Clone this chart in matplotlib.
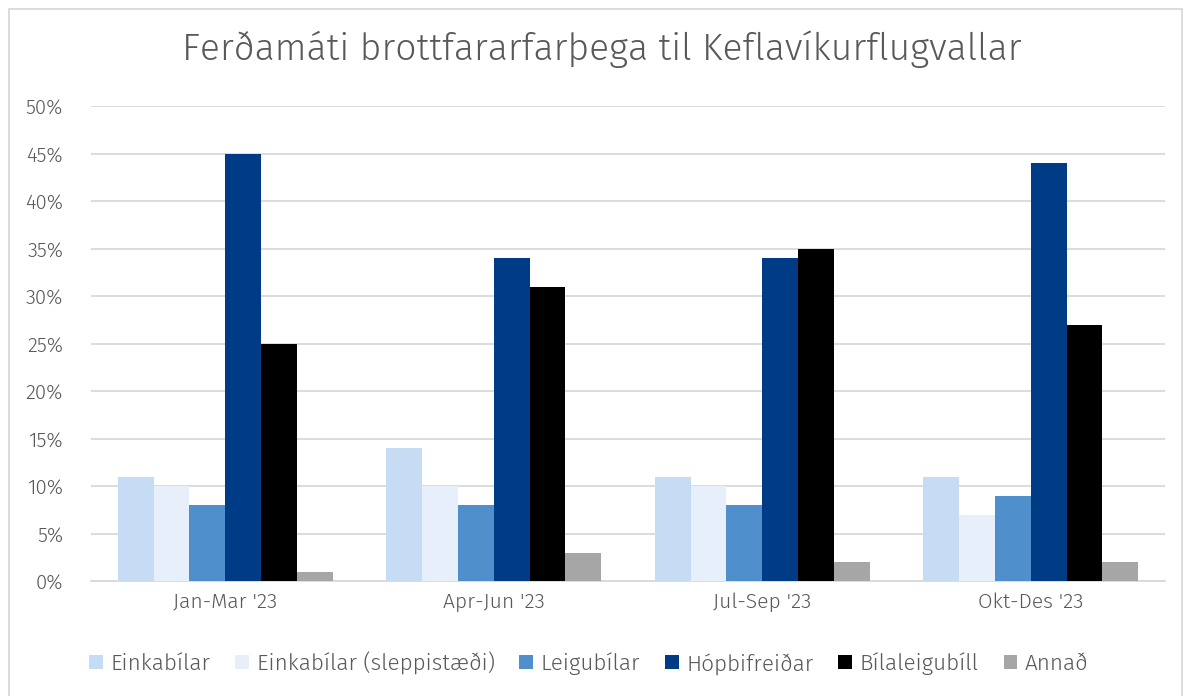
import numpy as np
import matplotlib
matplotlib.use("Agg")
import matplotlib.pyplot as plt
from matplotlib.patches import Rectangle
from matplotlib.ticker import PercentFormatter

# Data
categories = ["Jan-Mar '23", "Apr-Jun '23", "Jul-Sep '23", "Okt-Des '23"]
series_names = ["Einkabílar", "Einkabílar (sleppistæði)", "Leigubílar",
                "Hópbifreiðar", "Bílaleigubíll", "Annað"]
einkabilar = [11, 14, 11, 11]
sleppistaedi = [10, 10, 10, 7]
leigubilar = [8, 8, 8, 9]
hopbifreidar = [45, 34, 34, 44]
bilaleigubill = [25, 31, 35, 27]
annad = [1, 3, 2, 2]

colors = ["#C5DCF4", "#E7F0FA", "#4E8FCC", "#003C85", "#000000", "#A6A6A6"]
text_color = "#595959"

plt.rcParams['font.family'] = ['Fira Sans', 'Open Sans', 'DejaVu Sans']
plt.rcParams['font.weight'] = 300

fig = plt.figure(figsize=(11.92, 6.96), dpi=100)
ax = fig.add_axes([0.0763, 0.1652, 0.9011, 0.6825])

all_series = [einkabilar, sleppistaedi, leigubilar, hopbifreidar, bilaleigubill, annad]
x = np.arange(len(categories))
n = len(all_series)
bw = 0.8 / n
for i, (vals, name, c) in enumerate(zip(all_series, series_names, colors)):
    ax.bar(x - 0.4 + bw * (i + 0.5), vals, width=bw, color=c, label=name, zorder=3)

ax.set_xlim(-0.5, len(categories) - 0.5)
ax.set_ylim(0, 50)
ax.set_yticks(np.arange(0, 51, 5))
ax.yaxis.set_major_formatter(PercentFormatter(decimals=0))
ax.set_xticks(x)
ax.set_xticklabels(categories)
ax.grid(axis='y', color="#D9D9D9", linewidth=1.3, zorder=0)
for s in ['top', 'right', 'left']:
    ax.spines[s].set_visible(False)
ax.spines['bottom'].set_color("#D9D9D9")
ax.spines['bottom'].set_linewidth(1.3)
ax.tick_params(axis='x', length=0, labelsize=15.2, colors=text_color, pad=8)
ax.tick_params(axis='y', length=0, labelsize=14.7, colors=text_color, pad=20)

fig.suptitle("Ferðamáti brottfararfarþega til Keflavíkurflugvallar",
             x=0.505, y=0.957, fontsize=26.9, color=text_color, fontweight=300)

leg = fig.legend(loc='center', bbox_to_anchor=(0.494, 0.047), ncol=6, frameon=False,
                 fontsize=16.2, handlelength=0.6, handleheight=0.6, handletextpad=0.35,
                 columnspacing=1.1)
for t in leg.get_texts():
    t.set_color(text_color)

# outer frame
fig.patches.append(Rectangle((0.0075, -0.01), 0.984, 0.997, transform=fig.transFigure,
                             fill=False, edgecolor="#D9D9D9", linewidth=1.3))

fig.savefig("out.png", dpi=100)
